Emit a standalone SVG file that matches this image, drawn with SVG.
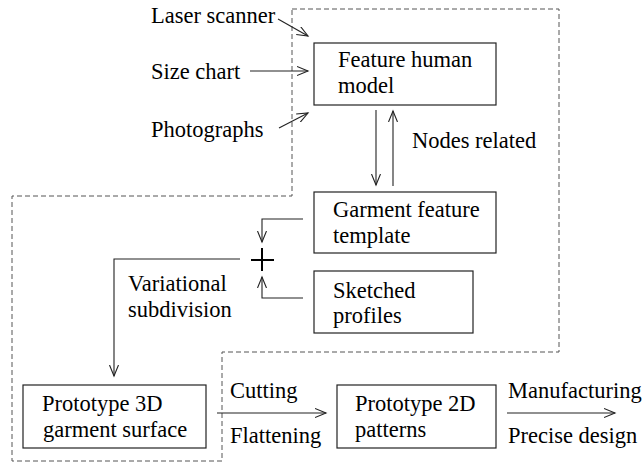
<svg xmlns="http://www.w3.org/2000/svg" width="643" height="468" viewBox="0 0 643 468">
<style>
.t{font-family:"Liberation Serif","Times New Roman",serif;font-size:22.5px;fill:#000}
.box{fill:#fff;stroke:#222;stroke-width:1.2}
.ln{fill:none;stroke:#222;stroke-width:1.1}
.dash{fill:none;stroke:#555;stroke-width:1;stroke-dasharray:5 3}
</style>
<defs>
<marker id="ah" markerUnits="userSpaceOnUse" markerWidth="14" markerHeight="12" refX="11" refY="5" orient="auto">
<path d="M0,0.5 L11,5 L0,9.5" fill="none" stroke="#222" stroke-width="1.1"/>
</marker>
</defs>
<path class="dash" d="M292,9 H559 V352 H222 V461 H12 V196 H292 Z"/>
<g id="feature">
<rect class="box" x="314" y="43" width="182" height="62"/>
<text class="t" x="338" y="67">Feature human</text>
<text class="t" x="338" y="93">model</text>
</g>
<g id="garment">
<rect class="box" x="314" y="192" width="182" height="61"/>
<text class="t" x="333" y="217">Garment feature</text>
<text class="t" x="333" y="243">template</text>
</g>
<g id="sketched">
<rect class="box" x="314" y="271" width="159" height="62"/>
<text class="t" x="333" y="298">Sketched</text>
<text class="t" x="333" y="323">profiles</text>
</g>
<g id="proto3d">
<rect class="box" x="23" y="385" width="183" height="63"/>
<text class="t" x="42" y="411">Prototype 3D</text>
<text class="t" x="43" y="437">garment surface</text>
</g>
<g id="proto2d">
<rect class="box" x="337" y="385" width="159" height="63"/>
<text class="t" x="355" y="411">Prototype 2D</text>
<text class="t" x="355" y="437">patterns</text>
</g>
<g id="labels">
<text class="t" x="151" y="23">Laser scanner</text>
<text class="t" x="151" y="79">Size chart</text>
<text class="t" x="151" y="137">Photographs</text>
<text class="t" x="412" y="148">Nodes related</text>
<text class="t" x="128" y="291">Variational</text>
<text class="t" x="128" y="317">subdivision</text>
<text class="t" x="230" y="398">Cutting</text>
<text class="t" x="230" y="443">Flattening</text>
<text class="t" x="508" y="398">Manufacturing</text>
<text class="t" x="508" y="443">Precise design</text>
</g>
<g id="connectors">
<line class="ln" x1="278" y1="19" x2="308" y2="36" marker-end="url(#ah)"/>
<line class="ln" x1="250" y1="71" x2="308" y2="71" marker-end="url(#ah)"/>
<line class="ln" x1="279" y1="128" x2="308" y2="113" marker-end="url(#ah)"/>
<line class="ln" x1="376" y1="110" x2="376" y2="185" marker-end="url(#ah)"/>
<line class="ln" x1="393" y1="186" x2="393" y2="111" marker-end="url(#ah)"/>
<polyline class="ln" points="303,219 262,219 262,242" marker-end="url(#ah)"/>
<polyline class="ln" points="303,298 262,298 262,277" marker-end="url(#ah)"/>
<path d="M251,260 H274 M262,248 V271" fill="none" stroke="#000" stroke-width="2"/>
<polyline class="ln" points="240,259 114,259 114,376" marker-end="url(#ah)"/>
<line class="ln" x1="217" y1="413" x2="326" y2="413" marker-end="url(#ah)"/>
<line class="ln" x1="507" y1="413" x2="615" y2="413" marker-end="url(#ah)"/>
</g>
</svg>
